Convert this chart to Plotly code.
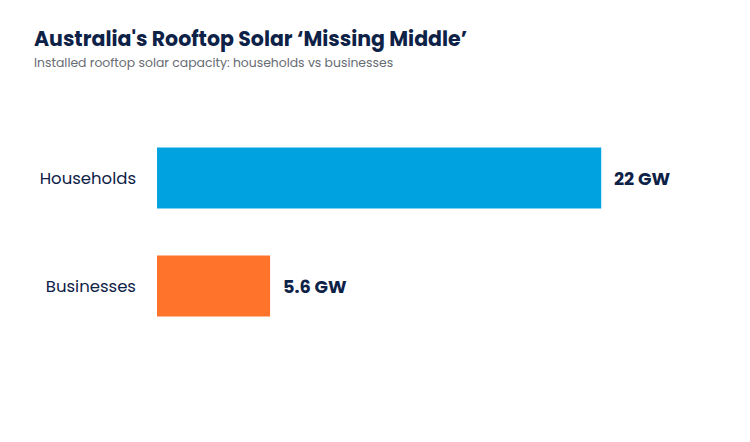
import plotly.graph_objects as go

# data
categories = ["Households", "Businesses"]
capacity_gw = [22, 5.6]
value_labels = ["22 GW", "5.6 GW"]
bar_colors = ["#00A3E0", "#FF732B"]

NAVY = "#0E2247"
FONT = "Poppins, Inter, sans-serif"

fig = go.Figure()

fig.add_trace(
    go.Bar(
        x=capacity_gw,
        y=categories,
        orientation="h",
        marker=dict(color=bar_colors, line=dict(width=0)),
        width=0.565,
        hoverinfo="skip",
    )
)

# value labels just past the bar ends
for cat, val, lab in zip(categories, capacity_gw, value_labels):
    fig.add_annotation(
        x=val,
        y=cat,
        text=f"<b>{lab}</b>",
        showarrow=False,
        xanchor="left",
        yanchor="middle",
        xshift=11,
        font=dict(family=FONT, size=17.7, color=NAVY),
    )

# subtitle
fig.add_annotation(
    xref="paper",
    yref="paper",
    x=-0.2381,
    y=1.287,
    xanchor="left",
    yanchor="middle",
    text="Installed rooftop solar capacity: households vs businesses",
    showarrow=False,
    font=dict(family=FONT, size=12.4, color="#676B72"),
)

fig.update_layout(
    width=750,
    height=442,
    paper_bgcolor="white",
    plot_bgcolor="white",
    font=dict(family=FONT, color=NAVY),
    showlegend=False,
    title=dict(
        text="<b>Australia's Rooftop Solar ‘Missing Middle’</b>",
        x=26 / 750,
        xanchor="left",
        y=1 - 31 / 442,
        yanchor="middle",
        font=dict(family=FONT, size=20.5, color=NAVY),
    ),
    xaxis=dict(
        range=[0, 26],
        visible=False,
        showgrid=False,
        zeroline=False,
        fixedrange=True,
    ),
    yaxis=dict(
        range=[1.5, -0.5],
        showgrid=False,
        zeroline=False,
        showline=False,
        ticks="",
        ticklabelstandoff=20,
        tickfont=dict(family=FONT, size=16.5, color=NAVY),
        fixedrange=True,
    ),
    margin=dict(l=149, r=76, t=116, b=110),
)

fig.write_html("out.html")
